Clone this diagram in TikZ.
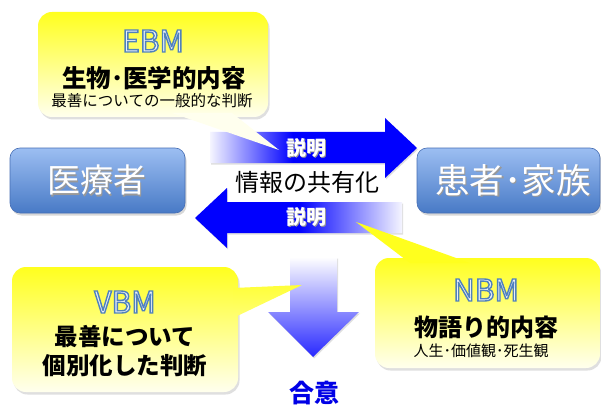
\documentclass[tikz,border=0pt]{standalone}
\usepackage{fontspec}
\setmainfont{Noto Sans CJK JP}
\usetikzlibrary{shadows}
\definecolor{calltop}{RGB}{255,255,30}
\definecolor{callbot}{RGB}{255,255,238}
\definecolor{callmidA}{RGB}{255,255,57}
\definecolor{callmidB}{RGB}{255,255,116}
\definecolor{boxtop}{RGB}{156,190,242}
\definecolor{boxbot}{RGB}{72,122,198}
\definecolor{boxline}{RGB}{70,110,180}
\definecolor{arrblue}{RGB}{0,0,255}
\definecolor{arrwhite}{RGB}{245,245,255}
\definecolor{arrdark}{RGB}{40,40,255}
\definecolor{olfill}{RGB}{234,240,248}
\definecolor{goui}{RGB}{0,0,230}
\pgfdeclarehorizontalshading{arrR}{100bp}{color(0bp)=(arrwhite); color(25bp)=(arrwhite); color(45bp)=(arrblue); color(100bp)=(arrblue)}
\pgfdeclarehorizontalshading{arrL}{100bp}{color(0bp)=(arrblue); color(50bp)=(arrblue); color(75bp)=(arrwhite); color(100bp)=(arrwhite)}
\newcommand\outl[1]{{\color{olfill}\special{pdf:literal direct 0.31 0.506 0.741 RG 1.4 w 2 Tr}#1\special{pdf:literal direct 0 Tr}}}
\newcommand\shtext[2]{\leavevmode\rlap{\hspace{#1}\raisebox{-#1}{\textcolor{black!40}{#2}}}\textcolor{white}{#2}}
\tikzset{
 lbl/.style={inner sep=0pt, anchor=center},
 arrshadow/.style={drop shadow={opacity=0.25, shadow xshift=1pt, shadow yshift=-1.5pt}},
 callbox/.style={rounded corners=14pt, top color=calltop, bottom color=callbot,
   drop shadow={opacity=0.25, shadow xshift=1.5pt, shadow yshift=-2.5pt}},
 bluebox/.style={rounded corners=10pt, top color=boxtop, bottom color=boxbot, draw=boxline, line width=0.6pt,
   drop shadow={opacity=0.3, shadow xshift=1.5pt, shadow yshift=-2.5pt}},
 head/.style={font=\fontsize{30}{33}\selectfont},
 mid/.style={font=\bfseries\fontsize{23.5}{27}\selectfont},
}
\begin{document}
\begin{tikzpicture}[x=1pt,y=-1pt]
\useasboundingbox[fill=white] (0,0) rectangle (601,406);
% blue boxes
\path[bluebox] (10,148) rectangle (185,213);
\path[bluebox] (417,148) rectangle (600,213);
\node[lbl, font=\fontsize{33}{36}\selectfont] (iryo) at (97,181) {\shtext{1.2pt}{医療者}};
\node[lbl, font=\fontsize{34.5}{38}\selectfont] (kanja) at (513,181) {\shtext{1.2pt}{患者･家族}};
% arrows
\path[shade, shading=arrR, arrshadow] (210,132) -- (385,132) -- (385,118) -- (417,148) -- (385,178) -- (385,163) -- (210,163) -- cycle;
\path[shade, shading=arrL, arrshadow] (402,202) -- (227,202) -- (227,188) -- (195,218) -- (227,248) -- (227,233) -- (402,233) -- cycle;
\path[top color=white, bottom color=arrdark, arrshadow] (290,257) -- (337,257) -- (337,312) -- (359,312) -- (313,357) -- (268,312) -- (290,312) -- cycle;
\node[lbl, font=\bfseries\fontsize{20}{24}\selectfont] (setsu1) at (306,148) {\shtext{1pt}{説明}};
\node[lbl, font=\bfseries\fontsize{20}{24}\selectfont] (setsu2) at (306,217) {\shtext{1pt}{説明}};
\node[lbl, font=\fontsize{24}{28}\selectfont] (joho) at (307,182) {情報の共有化};
\node[lbl, font=\bfseries\fontsize{25}{28}\selectfont, text=goui] (goui) at (314,393) {合意};
% EBM callout
\path[callbox] (38,12) rectangle (268,117);
\path[fill=callbot] (172,113) -- (279,150) -- (232,113) -- cycle;
\node[lbl, head] (ebm) at (153,41) {\outl{EBM}};
\node[lbl, font=\bfseries\fontsize{24.5}{28}\selectfont] (ebm1) at (154,78) {生物･医学的内容};
\node[lbl, font=\fontsize{15.5}{18}\selectfont] (ebm2) at (152,101) {最善についての一般的な判断};
% VBM callout
\path[callbox] (12,267) rectangle (238,392);
\path[top color=callmidA, bottom color=callmidB] (233,288) -- (302,285) -- (233,318) -- cycle;
\node[lbl, head] (vbm) at (125,302) {\outl{VBM}};
\node[lbl, mid] (vbm1) at (125,337) {最善について};
\node[lbl, mid] (vbm2) at (125,366) {個別化した判断};
% NBM callout
\path[callbox] (375,258) rectangle (600,368);
\path[fill=calltop] (410,263) -- (356,222) -- (470,263) -- cycle;
\node[lbl, head] (nbm) at (486,290) {\outl{NBM}};
\node[lbl, font=\bfseries\fontsize{24}{28}\selectfont] (nbm1) at (486,327) {物語り的内容};
\node[lbl, font=\fontsize{15}{18}\selectfont] (nbm2) at (481,351) {人生･価値観･死生観};
\end{tikzpicture}
\end{document}
